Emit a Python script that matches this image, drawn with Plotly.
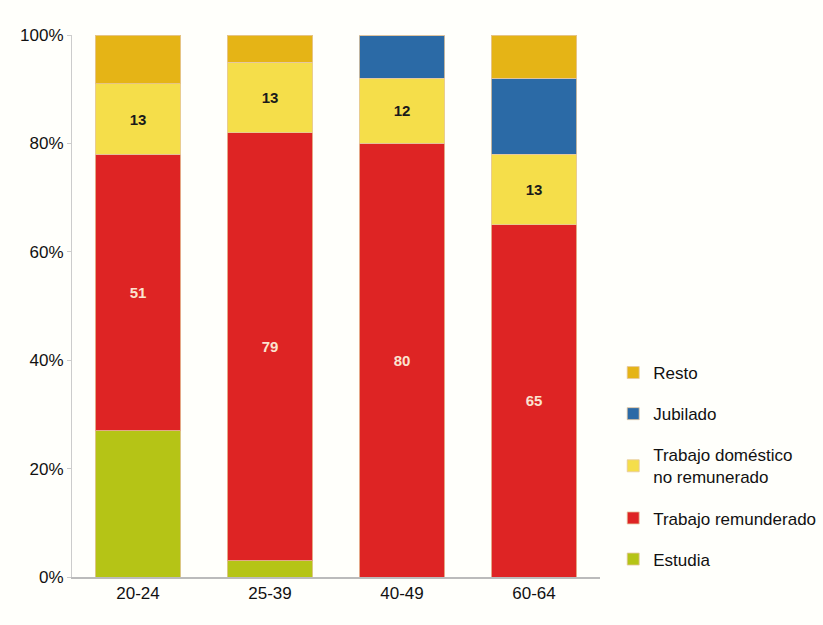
import plotly.graph_objects as go

categories = ["20-24", "25-39", "40-49", "60-64"]
estudia = [27, 3, 0, 0]
trabajo_rem = [51, 79, 80, 65]
domestico = [13, 13, 12, 13]
jubilado = [0, 0, 8, 14]
resto = [9, 5, 0, 8]

rem_labels = ["51", "79", "80", "65"]
dom_labels = ["13", "13", "12", "13"]

series = [
    ("Estudia", estudia, "#b5c416", None, None),
    ("Trabajo remunderado", trabajo_rem, "#de2424", rem_labels, "#fbe3d0"),
    ("Trabajo doméstico<br>no remunerado", domestico, "#f5de4a", dom_labels, "#1a1a1a"),
    ("Jubilado", jubilado, "#2b6aa6", None, None),
    ("Resto", resto, "#e5b416", None, None),
]

fig = go.Figure()
for i, (name, vals, color, labels, tcolor) in enumerate(series):
    fig.add_trace(go.Bar(
        x=categories, y=vals, name=name,
        marker=dict(color=color, line=dict(color="rgba(230,200,160,0.8)", width=1)),
        text=labels if labels else None,
        textposition="inside" if labels else "none",
        insidetextanchor="middle",
        textfont=dict(color=tcolor if tcolor else "#000", size=15,
                      family="Liberation Sans", weight="bold"),
        legendgroup=f"g{i}",
        legendrank=100 - i,
        hoverinfo="x+y+name",
    ))

fig.update_layout(
    barmode="stack",
    bargap=0.35,
    width=823, height=625,
    margin=dict(l=72, r=223, t=35, b=48, autoexpand=False),
    paper_bgcolor="#fffffb",
    plot_bgcolor="#fffffb",
    font=dict(family="Liberation Sans", size=17, color="#111"),
    showlegend=True,
    uniformtext=dict(minsize=8, mode="show"),
    legend=dict(
        x=1.025, y=0.0, xanchor="left", yanchor="bottom",
        traceorder="grouped", tracegroupgap=16,
        font=dict(size=17, family="Liberation Sans"),
        itemwidth=30, bgcolor="rgba(0,0,0,0)",
    ),
)
fig.update_xaxes(
    showline=True, linecolor="#bbbbbb", linewidth=2,
    ticks="", tickfont=dict(size=17), showgrid=False,
)
fig.update_yaxes(
    range=[0, 100], tickvals=[0, 20, 40, 60, 80, 100],
    ticktext=["0%", "20%", "40%", "60%", "80%", "100%"],
    showline=True, linecolor="#cccccc", linewidth=1,
    ticks="outside", ticklen=4, tickcolor="#cccccc",
    showgrid=False, zeroline=False, tickfont=dict(size=17),
)

fig.write_html("out.html")
